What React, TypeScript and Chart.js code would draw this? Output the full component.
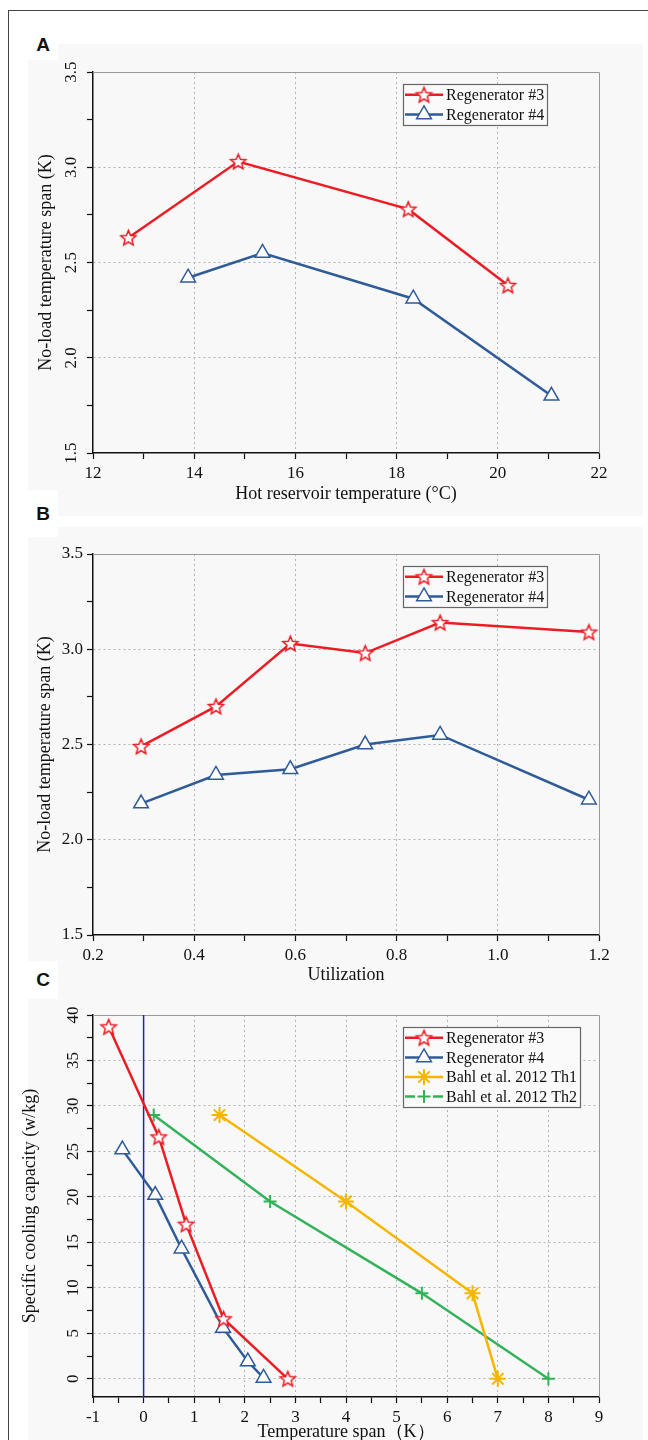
import React, { useEffect, useRef } from 'react';
import { Chart, registerables } from 'chart.js';
import { drawPoint } from 'chart.js/helpers';

Chart.register(...registerables);

// ---------- Panel A: span vs hot reservoir temperature ----------
const A_HOT_TEMP_R3 = [12.7, 14.87, 18.23, 20.2];
const A_SPAN_R3 = [2.63, 3.03, 2.78, 2.38];
const A_HOT_TEMP_R4 = [13.88, 15.35, 18.33, 21.06];
const A_SPAN_R4 = [2.42, 2.55, 2.31, 1.8];
const A_X_TICKS = [12, 13, 14, 15, 16, 17, 18, 19, 20, 21, 22];
const SPAN_TICKS = [1.5, 1.75, 2.0, 2.25, 2.5, 2.75, 3.0, 3.25, 3.5];

// ---------- Panel B: span vs utilization ----------
const B_UTILIZATION = [0.295, 0.443, 0.59, 0.738, 0.886, 1.18];
const B_SPAN_R3 = [2.49, 2.7, 3.03, 2.98, 3.14, 3.09];
const B_SPAN_R4 = [2.19, 2.34, 2.37, 2.5, 2.55, 2.21];
const B_X_TICKS = [0.2, 0.3, 0.4, 0.5, 0.6, 0.7, 0.8, 0.9, 1.0, 1.1, 1.2];

// ---------- Panel C: cooling capacity vs temperature span ----------
const C_SPAN_R3 = [-0.69, 0.3, 0.84, 1.58, 2.85];
const C_CAP_R3 = [38.7, 26.6, 17.0, 6.6, 0];
const C_SPAN_R4 = [-0.42, 0.23, 0.75, 1.57, 2.06, 2.37];
const C_CAP_R4 = [25.2, 20.2, 14.3, 5.6, 1.9, 0.1];
const C_SPAN_TH1 = [1.5, 4.0, 6.5, 7.0];
const C_CAP_TH1 = [29, 19.5, 9.4, 0];
const C_SPAN_TH2 = [0.2, 2.5, 5.5, 8.0];
const C_CAP_TH2 = [29, 19.5, 9.4, 0];
const C_ZERO_X = [0, 0];
const C_ZERO_Y = [-2, 40];
const C_X_TICKS = [-1, -0.5, 0, 0.5, 1, 1.5, 2, 2.5, 3, 3.5, 4, 4.5, 5, 5.5, 6, 6.5, 7, 7.5, 8, 8.5, 9];
const C_Y_TICKS = [0, 2.5, 5, 7.5, 10, 12.5, 15, 17.5, 20, 22.5, 25, 27.5, 30, 32.5, 35, 37.5, 40];

const SERIF = "'Liberation Serif', 'Times New Roman', serif";
const RED = '#ec1c24';
const BLUE = '#2f5b98';
const YELLOW = '#f6b500';
const GREEN = '#33b25a';
const ZERO_BLUE = '#2222b4';
const PANEL_BG = '#f8f8f8';

const pts = (xs: number[], ys: number[]) => xs.map((x, i) => ({ x, y: ys[i] }));

function makeStar(color: string, fill: string, R: number, lw: number) {
  const size = Math.ceil(2 * R + lw * 2 + 2);
  const c = document.createElement('canvas');
  c.width = size;
  c.height = size;
  const g = c.getContext('2d')!;
  const cx = size / 2;
  const cy = size / 2 + R * 0.08;
  g.beginPath();
  for (let i = 0; i < 10; i++) {
    const r = i % 2 === 0 ? R : R * 0.45;
    const a = -Math.PI / 2 + (i * Math.PI) / 5;
    const px = cx + r * Math.cos(a);
    const py = cy + r * Math.sin(a);
    if (i === 0) g.moveTo(px, py);
    else g.lineTo(px, py);
  }
  g.closePath();
  g.fillStyle = fill;
  g.fill();
  g.lineWidth = lw;
  g.strokeStyle = color;
  g.lineJoin = 'miter';
  g.stroke();
  return c;
}

const boxLegend = {
  id: 'boxLegend',
  afterDatasetsDraw(chart: any, _args: any, opts: any) {
    if (!opts || !opts.show) return;
    const { ctx, chartArea } = chart;
    const items = chart.data.datasets.filter((d: any) => !d.hideInLegend);
    const x = chartArea.left + opts.left;
    const y = chartArea.top + opts.top;
    ctx.save();
    ctx.font = opts.font;
    let maxW = 0;
    items.forEach((d: any) => {
      maxW = Math.max(maxW, ctx.measureText(d.label).width);
    });
    const w = opts.padX + opts.lineLen + opts.gap + maxW + opts.padRight;
    const h = items.length * opts.rowH + 2 * opts.padY;
    ctx.fillStyle = opts.bg;
    ctx.fillRect(x, y, w, h);
    ctx.strokeStyle = opts.borderColor;
    ctx.lineWidth = 1.2;
    ctx.strokeRect(Math.round(x) + 0.5, Math.round(y) + 0.5, Math.round(w), Math.round(h));
    items.forEach((d: any, i: number) => {
      const cy = y + opts.padY + opts.rowH * (i + 0.5);
      const x0 = x + opts.padX;
      const x1 = x0 + opts.lineLen;
      const cx = (x0 + x1) / 2;
      ctx.strokeStyle = d.borderColor;
      ctx.lineWidth = d.borderWidth;
      ctx.beginPath();
      if (d.legendGap) {
        ctx.moveTo(x0, cy);
        ctx.lineTo(cx - d.legendGap, cy);
        ctx.moveTo(cx + d.legendGap, cy);
        ctx.lineTo(x1, cy);
      } else {
        ctx.moveTo(x0, cy);
        ctx.lineTo(x1, cy);
      }
      ctx.stroke();
      ctx.fillStyle = d.pointBackgroundColor;
      ctx.strokeStyle = d.pointBorderColor;
      ctx.lineWidth = d.pointBorderWidth;
      drawPoint(ctx, { pointStyle: d.pointStyle, rotation: 0, radius: d.pointRadius, borderWidth: d.pointBorderWidth } as any, cx, cy);
      ctx.fillStyle = '#111';
      ctx.textAlign = 'left';
      ctx.textBaseline = 'middle';
      ctx.fillText(d.label, x1 + opts.gap, cy + 1);
    });
    ctx.restore();
  },
};

const frame = {
  id: 'frame',
  beforeDatasetsDraw(chart: any) {
    const { ctx, chartArea } = chart;
    ctx.save();
    ctx.strokeStyle = '#9a9a9a';
    ctx.lineWidth = 1;
    ctx.beginPath();
    ctx.moveTo(chartArea.left, Math.round(chartArea.top) + 0.5);
    ctx.lineTo(Math.round(chartArea.right) + 0.5, Math.round(chartArea.top) + 0.5);
    ctx.lineTo(Math.round(chartArea.right) + 0.5, chartArea.bottom);
    ctx.stroke();
    ctx.restore();
  },
};

type AxisSpec = {
  min: number;
  max: number;
  ticks: number[];
  label: (v: number) => string;
  gridAt: (v: number) => boolean;
  title: string;
  titlePad: any;
  fit: number;
  isX: boolean;
  rotate?: boolean;
  tickPad: number;
};

function axis(s: AxisSpec) {
  return {
    type: 'linear',
    min: s.min,
    max: s.max,
    afterBuildTicks: (sc: any) => {
      sc.ticks = s.ticks.map((v) => ({ value: v }));
    },
    afterFit: (sc: any) => {
      if (s.isX) sc.height = s.fit;
      else sc.width = s.fit;
    },
    border: { display: true, color: '#111', width: 1.5, dash: [2, 3] },
    grid: {
      color: (c: any) => (c.tick && s.gridAt(c.tick.value) ? '#b3b3b3' : 'rgba(0,0,0,0)'),
      lineWidth: 1,
      drawTicks: true,
      tickLength: 6,
      tickColor: '#111',
      tickWidth: 1.2,
    },
    ticks: {
      autoSkip: false,
      padding: s.tickPad,
      color: '#111',
      font: { family: SERIF, size: 17 },
      callback: (v: any) => s.label(Number(v)),
      ...(s.rotate ? { minRotation: 90, maxRotation: 90, crossAlign: 'center' } : { maxRotation: 0 }),
    },
    title: {
      display: true,
      text: s.title,
      color: '#111',
      font: { family: SERIF, size: 18 },
      padding: s.titlePad,
    },
  };
}

const near = (a: number, b: number) => Math.abs(a - b) < 1e-6;

function regenDatasets(xs3: number[], ys3: number[], xs4: number[], ys4: number[], star: any) {
  return [
    {
      label: 'Regenerator #3',
      data: pts(xs3, ys3),
      showLine: true,
      borderColor: RED,
      borderWidth: 2.5,
      pointStyle: star,
      pointRadius: 8,
      pointBackgroundColor: '#ffffff',
      pointBorderColor: RED,
      pointBorderWidth: 1.5,
      order: 1,
    },
    {
      label: 'Regenerator #4',
      data: pts(xs4, ys4),
      showLine: true,
      borderColor: BLUE,
      borderWidth: 2.5,
      pointStyle: 'triangle',
      pointRadius: 8.5,
      pointBackgroundColor: '#ffffff',
      pointBorderColor: BLUE,
      pointBorderWidth: 1.5,
      order: 2,
    },
  ];
}

const legendOpts = {
  show: true,
  left: 310,
  top: 12,
  padX: 2,
  padY: 1,
  padRight: 3,
  lineLen: 38,
  gap: 3,
  rowH: 19.6,
  font: `16px ${SERIF}`,
  bg: '#fafafa',
  borderColor: '#666',
};

function baseOptions(padTop: number, scales: any) {
  return {
    responsive: false,
    animation: false,
    events: [],
    layout: { padding: { top: padTop, right: 44, left: 0, bottom: 0 } },
    plugins: {
      legend: { display: false },
      tooltip: { enabled: false },
      boxLegend: legendOpts,
    },
    scales,
  };
}

function configA(star: any) {
  return {
    type: 'scatter',
    data: { datasets: regenDatasets(A_HOT_TEMP_R3, A_SPAN_R3, A_HOT_TEMP_R4, A_SPAN_R4, star) },
    options: baseOptions(28, {
      x: axis({
        min: 12, max: 22, ticks: A_X_TICKS, isX: true, fit: 63, tickPad: 4,
        label: (v) => (v % 2 === 0 ? String(v) : ''),
        gridAt: (v) => v % 2 === 0 && v > 12 && v < 22,
        title: 'Hot reservoir temperature (°C)', titlePad: { top: 0, bottom: 11 },
      }),
      y: axis({
        min: 1.5, max: 3.5, ticks: SPAN_TICKS, isX: false, fit: 85, tickPad: 5, rotate: true,
        label: (v) => (Math.round(v * 100) % 50 === 0 ? v.toFixed(1) : ''),
        gridAt: (v) => Math.round(v * 100) % 50 === 0 && v > 1.5 && v < 3.5,
        title: 'No-load temperature span (K)', titlePad: { top: 27, bottom: 0 },
      }),
    }),
    plugins: [frame, boxLegend],
  };
}

function configB(star: any) {
  return {
    type: 'scatter',
    data: { datasets: regenDatasets(B_UTILIZATION, B_SPAN_R3, B_UTILIZATION, B_SPAN_R4, star) },
    options: baseOptions(27, {
      x: axis({
        min: 0.2, max: 1.2, ticks: B_X_TICKS, isX: true, fit: 62, tickPad: 4,
        label: (v) => (Math.round(v * 10) % 2 === 0 ? v.toFixed(1) : ''),
        gridAt: (v) => Math.round(v * 10) % 2 === 0 && v > 0.25 && v < 1.15,
        title: 'Utilization', titlePad: { top: 0, bottom: 11 },
      }),
      y: axis({
        min: 1.5, max: 3.5, ticks: SPAN_TICKS, isX: false, fit: 85, tickPad: 4,
        label: (v) => (Math.round(v * 100) % 50 === 0 ? v.toFixed(1) : ''),
        gridAt: (v) => Math.round(v * 100) % 50 === 0 && v > 1.5 && v < 3.5,
        title: 'No-load temperature span (K)', titlePad: { top: 26, bottom: 0 },
      }),
    }),
    plugins: [frame, boxLegend],
  };
}

function configC(star: any) {
  const ds: any[] = regenDatasets(C_SPAN_R3, C_CAP_R3, C_SPAN_R4, C_CAP_R4, star);
  ds.push(
    {
      label: 'Bahl et al. 2012 Th1',
      data: pts(C_SPAN_TH1, C_CAP_TH1),
      showLine: true,
      borderColor: YELLOW,
      borderWidth: 2.5,
      pointStyle: 'star',
      pointRadius: 8,
      pointBackgroundColor: YELLOW,
      pointBorderColor: YELLOW,
      pointBorderWidth: 2,
      order: 3,
    },
    {
      label: 'Bahl et al. 2012 Th2',
      data: pts(C_SPAN_TH2, C_CAP_TH2),
      showLine: true,
      borderColor: GREEN,
      borderWidth: 2.5,
      pointStyle: 'cross',
      pointRadius: 6.5,
      pointBackgroundColor: GREEN,
      pointBorderColor: GREEN,
      pointBorderWidth: 2,
      legendGap: 9,
      order: 4,
    },
    {
      label: 'zero',
      hideInLegend: true,
      data: pts(C_ZERO_X, C_ZERO_Y),
      showLine: true,
      borderColor: ZERO_BLUE,
      borderWidth: 1.5,
      pointRadius: 0,
      order: 10,
    }
  );
  return {
    type: 'scatter',
    data: { datasets: ds },
    options: baseOptions(18, {
      x: axis({
        min: -1, max: 9, ticks: C_X_TICKS, isX: true, fit: 55, tickPad: 4,
        label: (v) => (Number.isInteger(v) ? String(v) : ''),
        gridAt: (v) => Number.isInteger(v) && v > -1 && v < 9,
        title: 'Temperature span（K）', titlePad: { top: 0, bottom: 9 },
      }),
      y: axis({
        min: -2, max: 40, ticks: C_Y_TICKS, isX: false, fit: 85, tickPad: 5, rotate: true,
        label: (v) => (near(v % 5, 0) ? String(v) : ''),
        gridAt: (v) => near(v % 5, 0) && v < 40,
        title: 'Specific cooling capacity (w/kg)', titlePad: { top: 11, bottom: 0 },
      }),
    }),
    plugins: [frame, boxLegend],
  };
}

function ChartCanvas(props: { build: (star: any) => any; left: number; top: number; width: number; height: number }) {
  const ref = useRef<HTMLCanvasElement | null>(null);
  useEffect(() => {
    if (!ref.current) return;
    const star = makeStar(RED, '#ffffff', 8, 1.5);
    const chart = new Chart(ref.current, props.build(star));
    return () => chart.destroy();
  }, []);
  return (
    <canvas
      ref={ref}
      width={props.width}
      height={props.height}
      style={{ position: 'absolute', left: props.left, top: props.top, width: props.width, height: props.height }}
    />
  );
}

const labelStyle = (top: number, height: number): React.CSSProperties => ({
  position: 'absolute',
  left: 28,
  top,
  width: 30,
  height,
  background: '#ffffff',
  fontFamily: "'Liberation Sans', Arial, sans-serif",
  fontWeight: 'bold',
  fontSize: 19,
  color: '#111',
  display: 'flex',
  alignItems: 'center',
  justifyContent: 'center',
});

export default function App() {
  return (
    <div style={{ position: 'absolute', left: 0, top: 0, width: 648, height: 1440, overflow: 'hidden', background: '#fff' }}>
      <div style={{ position: 'absolute', left: 8, top: 10, width: 700, height: 1500, borderLeft: '1px solid #444', borderTop: '1px solid #444' }} />
      <div style={{ position: 'absolute', left: 28, top: 44, width: 615, height: 472, background: PANEL_BG }} />
      <div style={{ position: 'absolute', left: 28, top: 527, width: 615, height: 930, background: PANEL_BG }} />
      <div style={labelStyle(30, 30)}>A</div>
      <div style={labelStyle(490, 47)}>B</div>
      <div style={labelStyle(961, 38)}>C</div>
      <ChartCanvas build={configA} left={8} top={44} width={635} height={472} />
      <ChartCanvas build={configB} left={8} top={527} width={635} height={470} />
      <ChartCanvas build={configC} left={8} top={997} width={635} height={455} />
    </div>
  );
}
